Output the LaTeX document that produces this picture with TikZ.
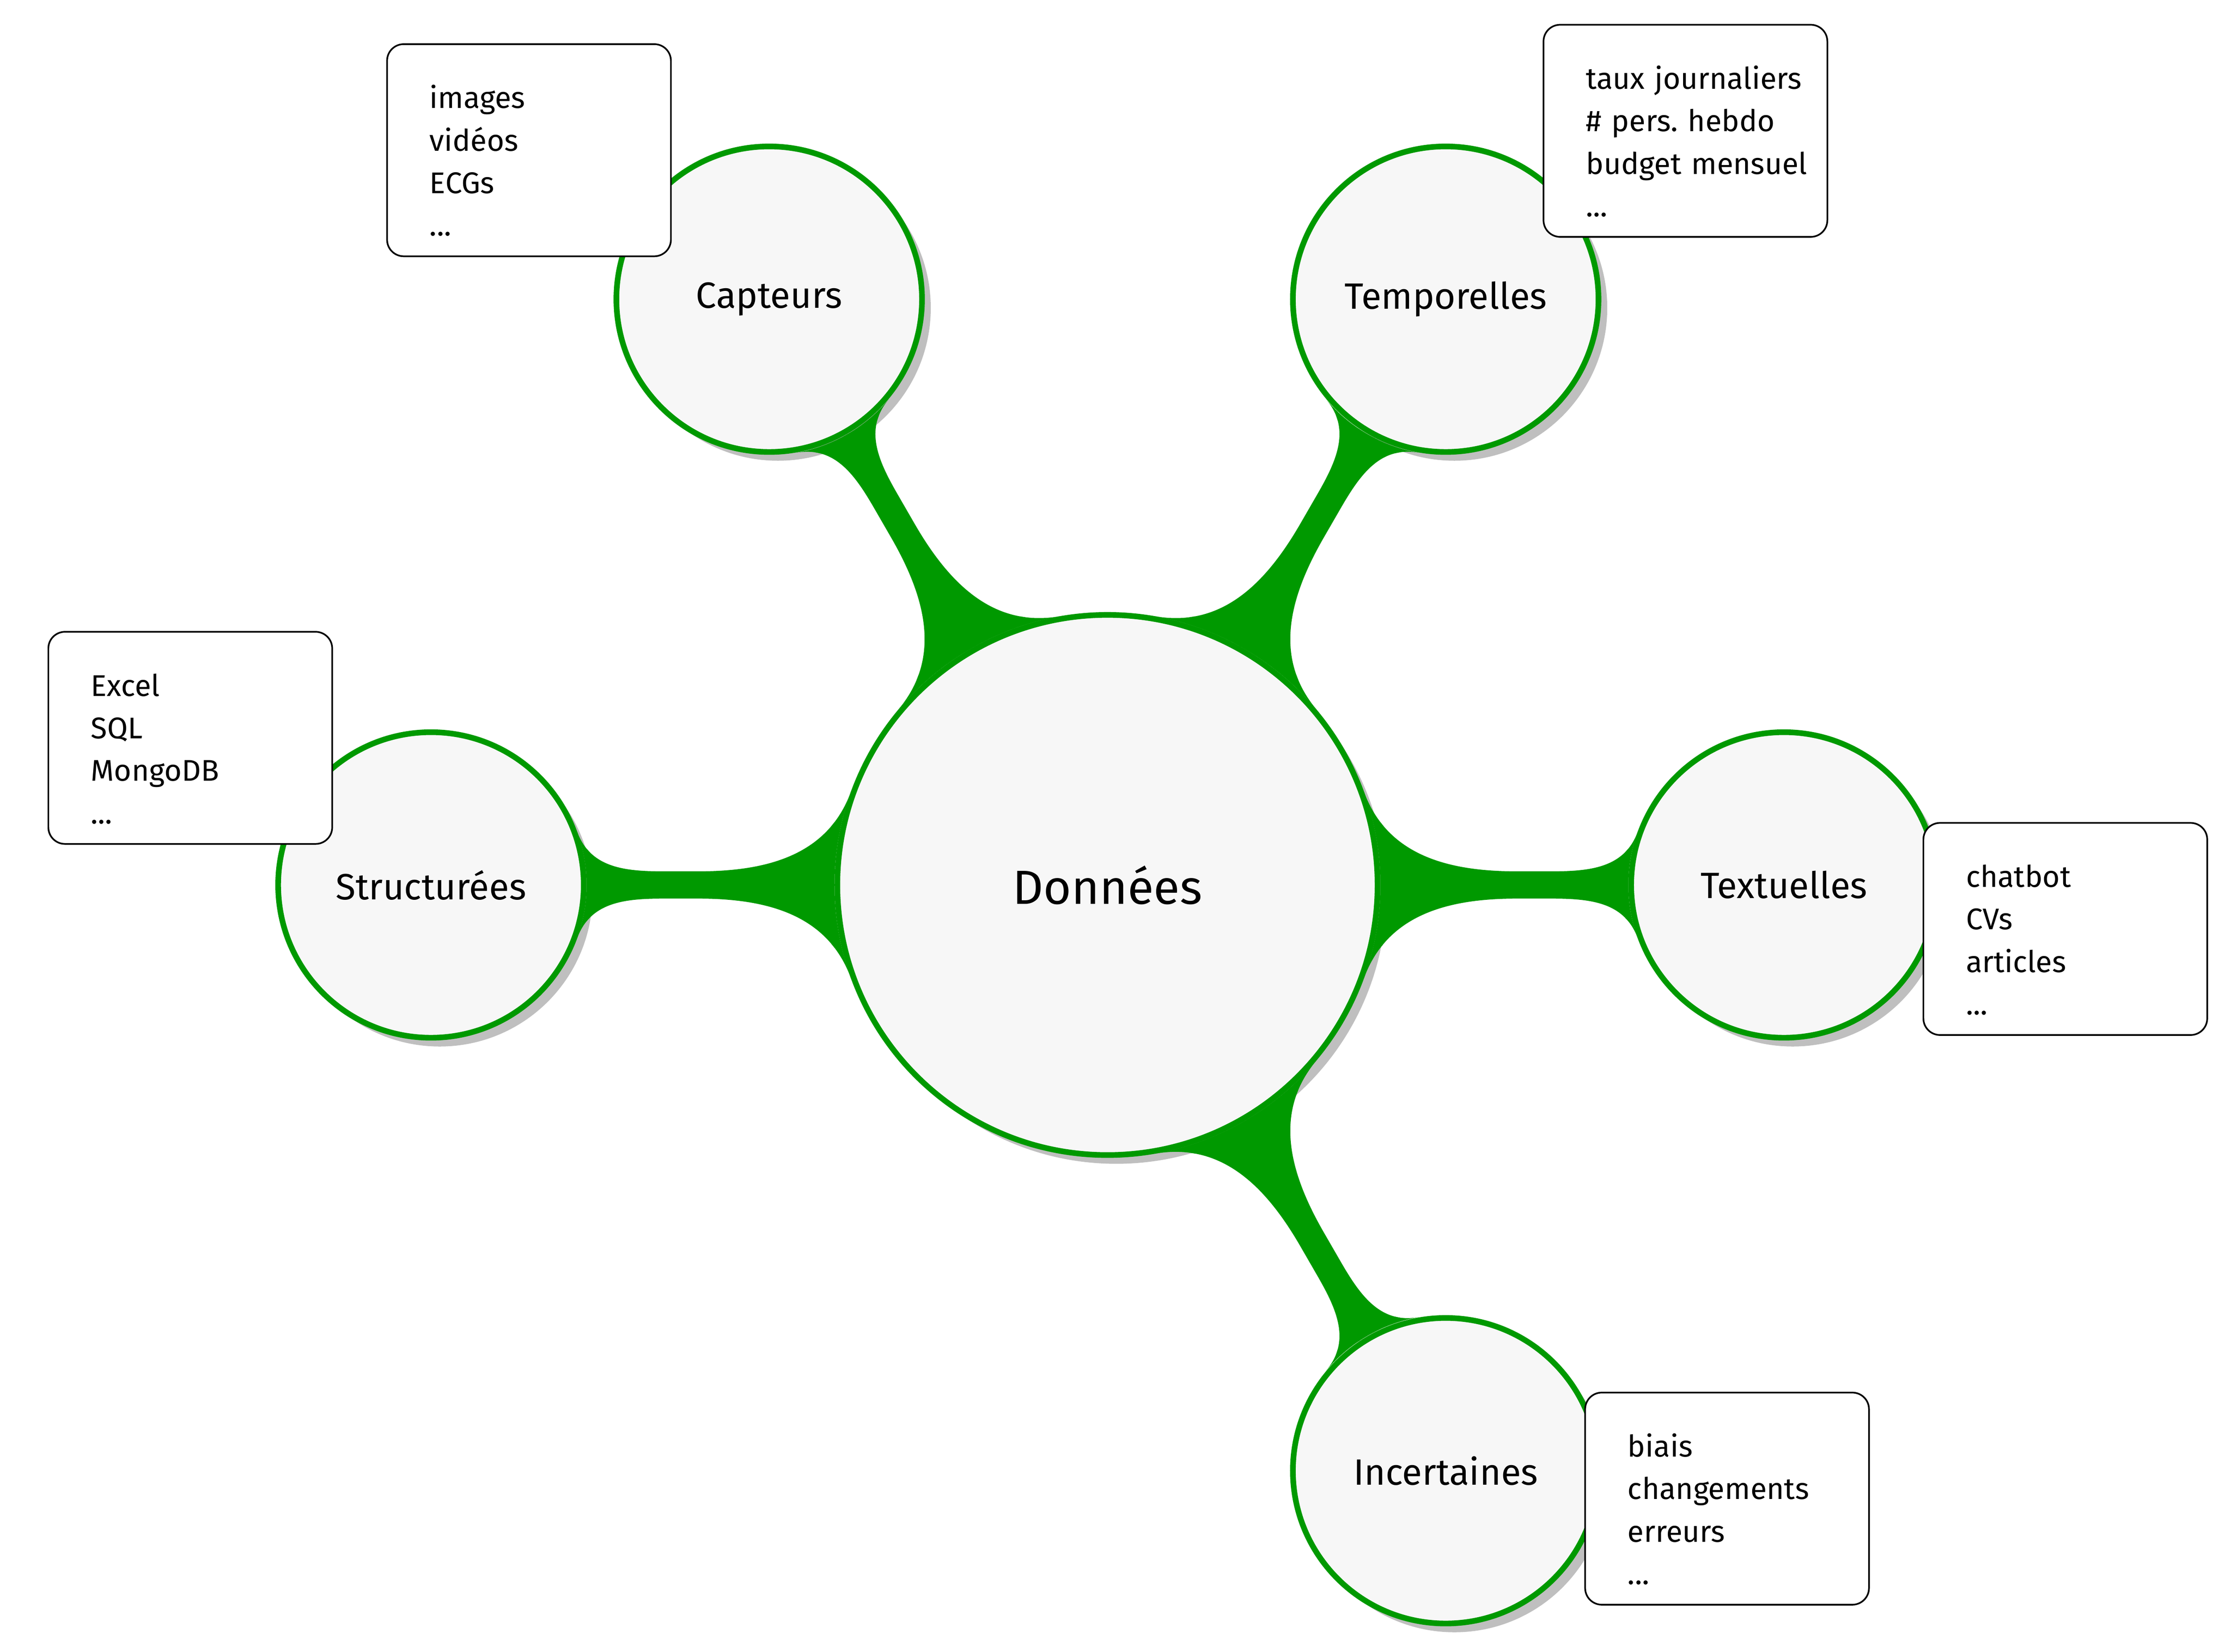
\documentclass[tikz,border=0pt]{standalone}
\usepackage{fontspec}
\setmainfont{Fira Sans}
\usetikzlibrary{mindmap, shadows}
\definecolor{mapgreen}{RGB}{0,153,0}

\begin{document}
\begin{tikzpicture}[bubble/.style={circle, draw=mapgreen, fill=black!3, line width=1.7pt, minimum size=3.23cm, inner sep=0pt, font=\fontsize{11}{13}\selectfont, drop shadow}, rootbubble/.style={bubble, minimum size=5.71cm, font=\fontsize{14.4}{17}\selectfont}, listbox/.style={draw=black, fill=white, rounded corners=5pt, line width=0.5pt, text width=3cm, inner xsep=0pt, inner ysep=0pt, align=left, text height=19.3pt, text depth=44.5pt, font=\fontsize{9}{12.8}\selectfont, execute at begin node={\leftskip=0.45cm}}, bar/.style={circle connection bar switch color=from (mapgreen) to (mapgreen)}]

    \useasboundingbox (-11.705,-8.105) rectangle (11.875,9.355);

    %Nodes
    \node[rootbubble](donnees) at (0,0){Données};
    \node[bubble](capteurs) at (120:7.15){Capteurs};
    \node[bubble](temporelles) at (60:7.15){Temporelles};
    \node[bubble](structurees) at (180:7.15){Structurées};
    \node[bubble](textuelles) at (0:7.15){Textuelles};
    \node[bubble](incertaines) at (-60:7.15){Incertaines};

    %Lines
    \foreach \leaf in {capteurs, temporelles, structurees, textuelles, incertaines}
        \path[mindmap, line width=8pt] (donnees) to[bar] (\leaf);

    %Boxes
    \node[listbox, anchor=south east] (capteurs_list) at ([shift={(-1.03,0.445)}]capteurs.center){images\\vidéos\\ECGs\\...};
    \node[listbox, anchor=south west] (temporelles_list) at ([shift={(1.025,0.65)}]temporelles.center){taux journaliers\\\#~pers.\ hebdo\\budget mensuel\\...};
    \node[listbox, anchor=south east] (structurees_list) at ([shift={(-1.035,0.425)}]structurees.center){Excel\\SQL\\MongoDB\\...};
    \node[listbox, anchor=north west] (textuelles_list) at ([shift={(1.465,0.665)}]textuelles.center){chatbot\\CVs\\articles\\...};
    \node[listbox, anchor=north west] (incertaines_list) at ([shift={(1.465,0.835)}]incertaines.center){biais\\changements\\erreurs\\...};

\end{tikzpicture}
\end{document}
